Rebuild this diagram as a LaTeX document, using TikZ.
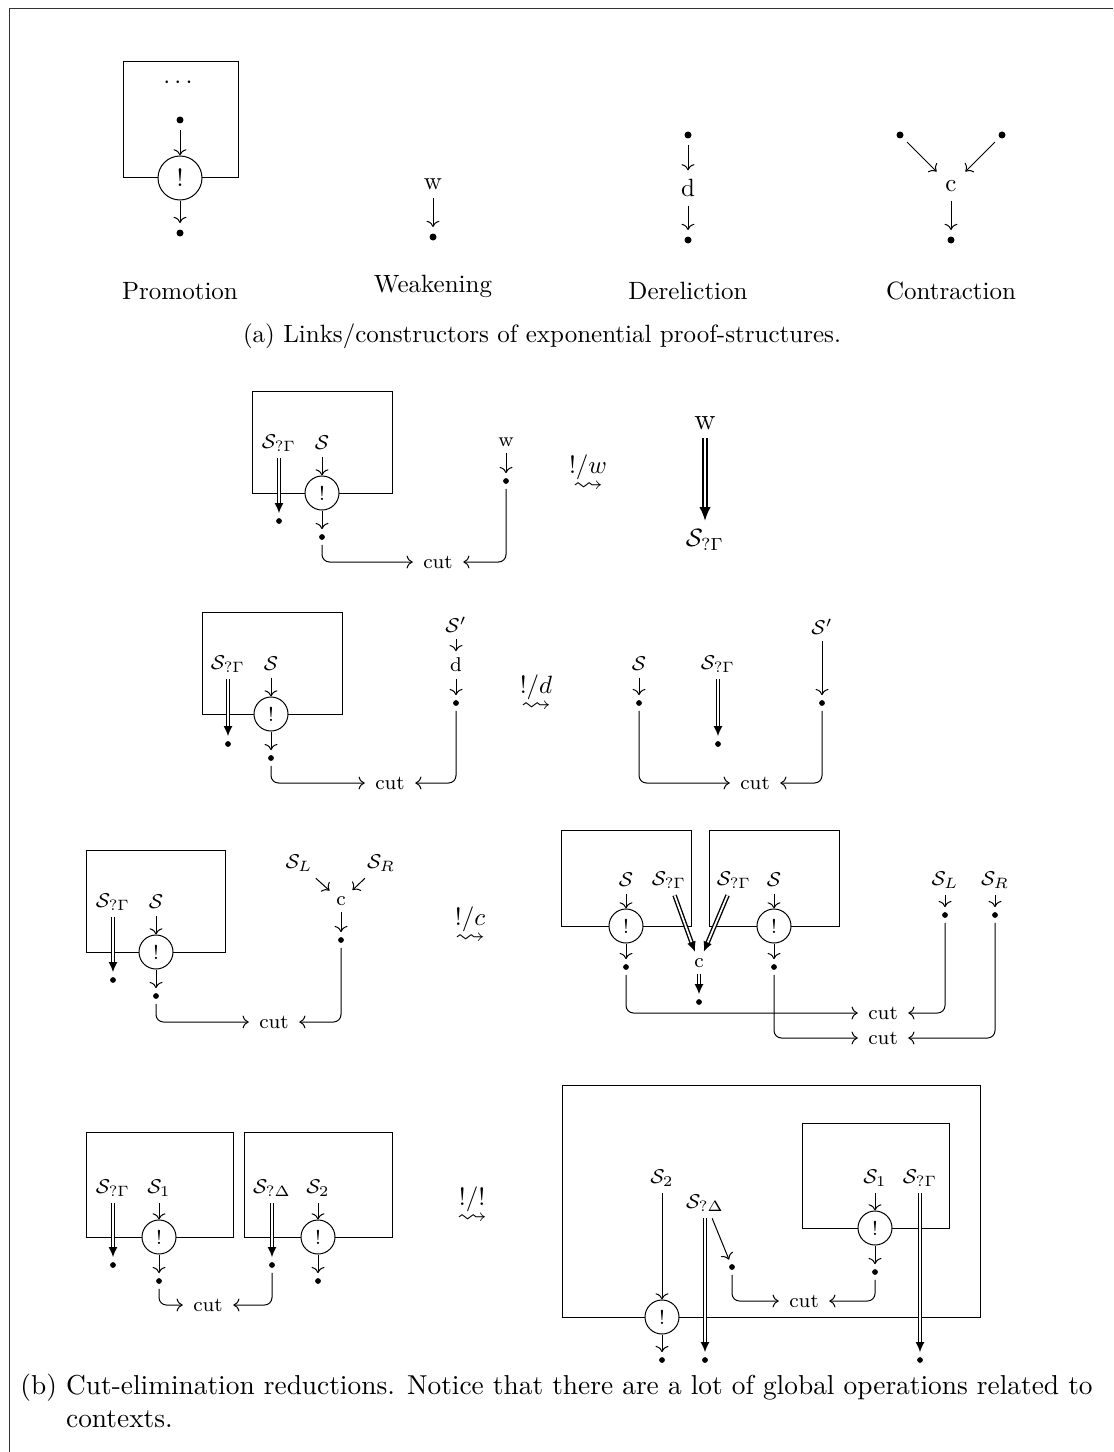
\documentclass[tikz,border=0pt]{standalone}
\usepackage{amsmath,amssymb,graphicx}
\usetikzlibrary{arrows.meta}
\newcommand{\sqarr}{\scalebox{1.2}[1]{$\rightsquigarrow$}}
\begin{document}
\begin{tikzpicture}[x=0.4pt,y=-0.4pt,
  boxst/.style={draw, line width=0.4pt},
  dotA/.style={circle, fill, inner sep=0pt, minimum size=2.8pt, outer sep=2.6pt},
  dotB/.style={circle, fill, inner sep=0pt, minimum size=2.3pt, outer sep=2pt},
  bangA/.style={circle, draw, fill=white, inner sep=0pt, minimum size=17.6pt},
  bangB/.style={circle, draw, fill=white, inner sep=0pt, minimum size=13.6pt, font=\footnotesize},
  lb/.style={font=\footnotesize, inner sep=2.5pt},
  cutst/.style={font=\footnotesize, inner sep=4pt},
  dbl/.style={double, line width=0.55pt, double distance=0.7pt, -{Latex[length=4pt,width=3.6pt]}},
  dblbig/.style={double, line width=0.7pt, double distance=0.9pt, -{Latex[length=5.5pt,width=4.6pt]}},
  cutln/.style={->, rounded corners=3pt},
  op/.style={align=center, inner sep=0pt},
  framest/.style={draw=black!80, line width=0.4pt}]
\useasboundingbox (0,0) rectangle (1113,1452);
\draw[framest] (9,1452) -- (9,9) -- (1113,9);

% ---------- (a) ----------
\draw[boxst] (123,62) rectangle (238,177);
\node (pdots) at (180,83) {$\cdots$};
\node[dotA] (pa1) at (180,120) {};
\node[bangA] (pb) at (180,178) {!};
\node[dotA] (pa2) at (180,233) {};
\draw[->] (pa1) -- (pb);
\draw[->] (pb) -- (pa2);
\node (plab) at (180,291) {Promotion};

\node (ww) at (433,184) {w};
\node[dotA] (wd) at (433,237) {};
\draw[->] (ww) -- (wd);
\node (wlab) at (433,286) {Weakening};

\node[dotA] (d1) at (688,135) {};
\node (dd) at (688,188) {d};
\node[dotA] (d2) at (688,240) {};
\draw[->] (d1) -- (dd);
\draw[->] (dd) -- (d2);
\node (dlab) at (688,291) {Dereliction};

\node[dotA] (c1) at (900,135) {};
\node[dotA] (c2) at (1002,135) {};
\node (cc) at (951,186) {c};
\node[dotA] (c3) at (951,240) {};
\draw[->] (c1) -- (cc);
\draw[->] (c2) -- (cc);
\draw[->] (cc) -- (c3);
\node (clab) at (951,291) {Contraction};

\node (capA) at (542,336) {(a) Links/constructors of exponential proof-structures.};

% ---------- (b) row 1 ----------
\draw[boxst] (252,391) rectangle (392,493);
\node[lb] (r1g) at (279,443) {$\mathcal{S}_{?\Gamma}$};
\node[lb] (r1s) at (322,443) {$\mathcal{S}$};
\node[bangB] (r1b) at (322,493) {!};
\node[dotB] (r1d1) at (279,521) {};
\node[dotB] (r1d2) at (322,537) {};
\node[cutst] (r1cut) at (438,562) {cut};
\node[lb] (r1w) at (506,442) {w};
\node[dotB] (r1d3) at (506,481) {};
\draw[dbl] (r1g) -- (r1d1);
\draw[->] (r1s) -- (r1b);
\draw[->] (r1b) -- (r1d2);
\draw[->] (r1w) -- (r1d3);
\draw[cutln] (r1d2) |- (r1cut);
\draw[cutln] (r1d3) |- (r1cut);

\node[op] (r1op) at (588,473) {$!/w$\\[-4.6pt]\sqarr};

\node[font=\large] (r1W) at (705,423) {w};
\node (r1S) at (705,540) {$\mathcal{S}_{?\Gamma}$};
\draw[dblbig] (r1W) -- (r1S);

% ---------- (b) row 2 ----------
\draw[boxst] (202,612) rectangle (342,714);
\node[lb] (r2g) at (228,664) {$\mathcal{S}_{?\Gamma}$};
\node[lb] (r2s) at (271,664) {$\mathcal{S}$};
\node[bangB] (r2b) at (271,714) {!};
\node[dotB] (r2d1) at (228,744) {};
\node[dotB] (r2d2) at (271,758) {};
\node[cutst] (r2cut) at (390,783) {cut};
\node[lb] (r2p) at (456,625) {$\mathcal{S}'$};
\node[lb] (r2dd) at (456,665) {d};
\node[dotB] (r2d3) at (456,703) {};
\draw[dbl] (r2g) -- (r2d1);
\draw[->] (r2s) -- (r2b);
\draw[->] (r2b) -- (r2d2);
\draw[->] (r2p) -- (r2dd);
\draw[->] (r2dd) -- (r2d3);
\draw[cutln] (r2d2) |- (r2cut);
\draw[cutln] (r2d3) |- (r2cut);

\node[op] (r2op) at (536,693) {$!/d$\\[-4.6pt]\sqarr};

\node[lb] (r2S) at (639,664) {$\mathcal{S}$};
\node[dotB] (r2e1) at (639,703) {};
\node[lb] (r2G) at (718,664) {$\mathcal{S}_{?\Gamma}$};
\node[dotB] (r2e2) at (718,744) {};
\node[lb] (r2P) at (822,627) {$\mathcal{S}'$};
\node[dotB] (r2e3) at (822,703) {};
\node[cutst] (r2cut2) at (755,783) {cut};
\draw[->] (r2S) -- (r2e1);
\draw[dbl] (r2G) -- (r2e2);
\draw[->] (r2P) -- (r2e3);
\draw[cutln] (r2e1) |- (r2cut2);
\draw[cutln] (r2e3) |- (r2cut2);

% ---------- (b) row 3 ----------
\draw[boxst] (86,850) rectangle (225,952);
\node[lb] (r3g) at (113,902) {$\mathcal{S}_{?\Gamma}$};
\node[lb] (r3s) at (156,902) {$\mathcal{S}$};
\node[bangB] (r3b) at (156,952) {!};
\node[dotB] (r3d1) at (113,980) {};
\node[dotB] (r3d2) at (156,996) {};
\node[cutst] (r3cut) at (274,1022) {cut};
\node[lb] (r3L) at (299,863) {$\mathcal{S}_L$};
\node[lb] (r3R) at (381,863) {$\mathcal{S}_R$};
\node[lb] (r3c) at (341,901) {c};
\node[dotB] (r3d3) at (341,940) {};
\draw[dbl] (r3g) -- (r3d1);
\draw[->] (r3s) -- (r3b);
\draw[->] (r3b) -- (r3d2);
\draw[->] (r3L) -- (r3c);
\draw[->] (r3R) -- (r3c);
\draw[->] (r3c) -- (r3d3);
\draw[cutln] (r3d2) |- (r3cut);
\draw[cutln] (r3d3) |- (r3cut);

\node[op] (r3op) at (470,925) {$!/c$\\[-4.6pt]\sqarr};

\draw[boxst] (561,830) rectangle (691,926);
\draw[boxst] (709,830) rectangle (839,926);
\node[lb] (r3S1) at (626,880) {$\mathcal{S}$};
\node[lb] (r3G1) at (669,880) {$\mathcal{S}_{?\Gamma}$};
\node[lb] (r3G2) at (734,880) {$\mathcal{S}_{?\Gamma}$};
\node[lb] (r3S2) at (774,880) {$\mathcal{S}$};
\node[bangB] (r3B1) at (626,926) {!};
\node[bangB] (r3B2) at (774,926) {!};
\node[dotB] (r3E1) at (626,967) {};
\node[dotB] (r3E2) at (774,967) {};
\node[lb] (r3C) at (699,963) {c};
\node[dotB] (r3E3) at (699,1002) {};
\node[lb] (r3SL) at (945,880) {$\mathcal{S}_L$};
\node[dotB] (r3F1) at (945,915) {};
\node[lb] (r3SR) at (995,880) {$\mathcal{S}_R$};
\node[dotB] (r3F2) at (995,915) {};
\node[cutst] (r3cutA) at (883,1013) {cut};
\node[cutst] (r3cutB) at (883,1038) {cut};
\draw[->] (r3S1) -- (r3B1);
\draw[->] (r3S2) -- (r3B2);
\draw[->] (r3B1) -- (r3E1);
\draw[->] (r3B2) -- (r3E2);
\draw[dbl] (r3G1) -- (r3C);
\draw[dbl] (r3G2) -- (r3C);
\draw[dbl] (r3C) -- (r3E3);
\draw[->] (r3SL) -- (r3F1);
\draw[->] (r3SR) -- (r3F2);
\draw[cutln] (r3E1) |- (r3cutA);
\draw[cutln] (r3F1) |- (r3cutA);
\draw[cutln] (r3E2) |- (r3cutB);
\draw[cutln] (r3F2) |- (r3cutB);

% ---------- (b) row 4 ----------
\draw[boxst] (86,1132) rectangle (233,1237);
\draw[boxst] (244,1132) rectangle (392,1237);
\node[lb] (r4g) at (113,1188) {$\mathcal{S}_{?\Gamma}$};
\node[lb] (r4s1) at (159,1188) {$\mathcal{S}_1$};
\node[bangB] (r4b1) at (159,1237) {!};
\node[dotB] (r4d1) at (113,1265) {};
\node[dotB] (r4d2) at (159,1281) {};
\node[lb] (r4D) at (272,1188) {$\mathcal{S}_{?\Delta}$};
\node[lb] (r4s2) at (318,1188) {$\mathcal{S}_2$};
\node[bangB] (r4b2) at (318,1237) {!};
\node[dotB] (r4d3) at (272,1265) {};
\node[dotB] (r4d4) at (318,1281) {};
\node[cutst] (r4cut) at (208,1305) {cut};
\draw[dbl] (r4g) -- (r4d1);
\draw[->] (r4s1) -- (r4b1);
\draw[->] (r4b1) -- (r4d2);
\draw[dbl] (r4D) -- (r4d3);
\draw[->] (r4s2) -- (r4b2);
\draw[->] (r4b2) -- (r4d4);
\draw[cutln] (r4d2) |- (r4cut);
\draw[cutln] (r4d3) |- (r4cut);

\node[op] (r4op) at (472,1205) {$!/!$\\[-4.6pt]\sqarr};

\draw[boxst] (562,1085) rectangle (980,1317);
\draw[boxst] (802,1123) rectangle (949,1228);
\node[lb] (r4S1) at (875,1178) {$\mathcal{S}_1$};
\node[bangB] (r4B1) at (875,1228) {!};
\node[dotB] (r4E1) at (875,1272) {};
\node[lb] (r4G) at (920,1178) {$\mathcal{S}_{?\Gamma}$};
\node[dotB] (r4E2) at (920,1360) {};
\node[lb] (r4S2) at (662,1178) {$\mathcal{S}_2$};
\node[bangB] (r4B2) at (662,1317) {!};
\node[dotB] (r4E3) at (662,1360) {};
\node[lb] (r4DD) at (705,1203) {$\mathcal{S}_{?\Delta}$};
\node[dotB] (r4E4) at (705,1360) {};
\node[dotB] (r4E5) at (732,1267) {};
\node[cutst] (r4cut2) at (804,1301) {cut};
\draw[->] (r4S1) -- (r4B1);
\draw[->] (r4B1) -- (r4E1);
\draw[dbl] (r4G) -- (r4E2);
\draw[->] (r4S2) -- (r4B2);
\draw[->] (r4B2) -- (r4E3);
\draw[dbl] (r4DD) -- (r4E4);
\draw[->] (r4DD.-65) -- (r4E5);
\draw[cutln] (r4E5) |- (r4cut2);
\draw[cutln] (r4E1) |- (r4cut2);

\node[anchor=north west, align=left, inner sep=0pt, font=\fontsize{10.95}{13.4}\selectfont] (capB) at (20,1373)
  {(b) Cut-elimination reductions. Notice that there are a lot of global operations related to\\
   \hphantom{(b)\ }contexts.};
\end{tikzpicture}
\end{document}
